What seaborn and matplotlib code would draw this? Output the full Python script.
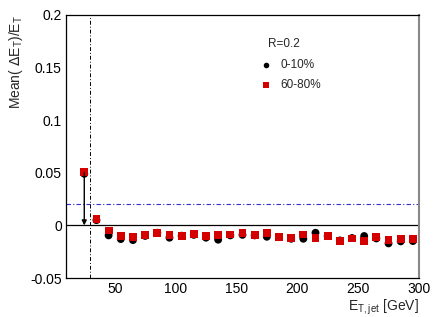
import numpy as np
import pandas as pd
import matplotlib
matplotlib.use("Agg")
import matplotlib.pyplot as plt
import seaborn as sns
from matplotlib.ticker import MultipleLocator

# jet ET bin centres and mean(dET)/ET for the two centrality classes
et_jet = [25, 35, 45, 55, 65, 75, 85, 95, 105, 115, 125, 135, 145, 155, 165,
          175, 185, 195, 205, 215, 225, 235, 245, 255, 265, 275, 285, 295]
mean_0_10 = [0.049, 0.005, -0.0095, -0.013, -0.014, -0.010, -0.007, -0.0117,
             -0.0098, -0.009, -0.0117, -0.0136, -0.0095, -0.009, -0.0095,
             -0.0108, -0.011, -0.0127, -0.0127, -0.007, -0.0101, -0.0143,
             -0.012, -0.0101, -0.0124, -0.0171, -0.0152, -0.0149]
mean_60_80 = [0.051, 0.0057, -0.0048, -0.0098, -0.0108, -0.0092, -0.007,
              -0.0089, -0.0098, -0.0079, -0.0098, -0.0089, -0.0086, -0.007,
              -0.0095, -0.0076, -0.0108, -0.012, -0.0086, -0.0117, -0.0101,
              -0.0149, -0.0124, -0.0146, -0.0114, -0.014, -0.0133, -0.0127]
labels = ["0-10%", "60-80%"]

df = pd.concat([
    pd.DataFrame({"et": et_jet, "mean": mean_0_10, "cent": labels[0]}),
    pd.DataFrame({"et": et_jet, "mean": mean_60_80, "cent": labels[1]}),
])

sns.set_style("white")
plt.rcParams["font.family"] = ["Liberation Sans", "DejaVu Sans"]

fig = plt.figure(figsize=(4.41, 3.17), dpi=100)
ax = fig.add_axes([0.1497, 0.123, 0.8003, 0.830])

sns.scatterplot(data=df, x="et", y="mean", hue="cent", style="cent",
                palette={labels[0]: "black", labels[1]: "#d40000"},
                markers={labels[0]: "o", labels[1]: "s"},
                s=32, linewidth=0, ax=ax, legend=False, zorder=3)

ax.axhline(0, color="black", lw=0.9, zorder=1)
ax.axhline(0.02, color="#3030d0", lw=0.8, ls=(0, (4, 2, 1, 2)), zorder=1)
ax.axvline(30, color="black", lw=0.7, ls=(0, (4, 2, 1, 2)), zorder=1)
ax.annotate("", xy=(25, 0.0), xytext=(25, 0.05),
            arrowprops=dict(arrowstyle="-|>", color="black", lw=1.0,
                            mutation_scale=7, shrinkA=0, shrinkB=0))

ax.set_xlim(10, 300)
ax.set_ylim(-0.05, 0.2)
ax.xaxis.set_minor_locator(MultipleLocator(10))
ax.yaxis.set_minor_locator(MultipleLocator(0.01))
ax.set_xticks([50, 100, 150, 200, 250, 300])
ax.set_xticklabels(["50", "100", "150", "200", "250", "300"])
ax.set_yticks([-0.05, 0, 0.05, 0.1, 0.15, 0.2])
ax.set_yticklabels(["-0.05", "0", "0.05", "0.1", "0.15", "0.2"])
ax.tick_params(which="both", direction="in", top=False, right=False,
               labelsize=10, colors="black")
ax.tick_params(which="major", length=8, width=0.8, pad=3)
ax.tick_params(which="minor", length=4, width=0.8)
for side in ["left", "bottom", "top"]:
    ax.spines[side].set_color("black")
    ax.spines[side].set_linewidth(0.9)
ax.spines["right"].set_color("#888888")
ax.spines["right"].set_linewidth(1.5)

ax.set_xlabel(r"E$_{\mathregular{T,jet}}$ [GeV]", fontsize=10, loc="right",
              labelpad=1)
ax.set_ylabel(r"Mean( $\Delta$E$_{\mathregular{T}}$)/E$_{\mathregular{T}}$",
              fontsize=10, loc="top", labelpad=4)

# legend drawn as in the original (title + two entries)
ax.text(176, 0.172, "R=0.2", fontsize=8.5, va="center")
leg_y = [0.152, 0.133]
for lab, c, m, yy in zip(labels, ["black", "#d40000"], ["o", "s"], leg_y):
    ax.scatter([174], [yy], color=c, marker=m, s=16, linewidth=0)
    ax.text(186, yy, lab, fontsize=8.5, va="center")

fig.savefig("out.png", dpi=100)
